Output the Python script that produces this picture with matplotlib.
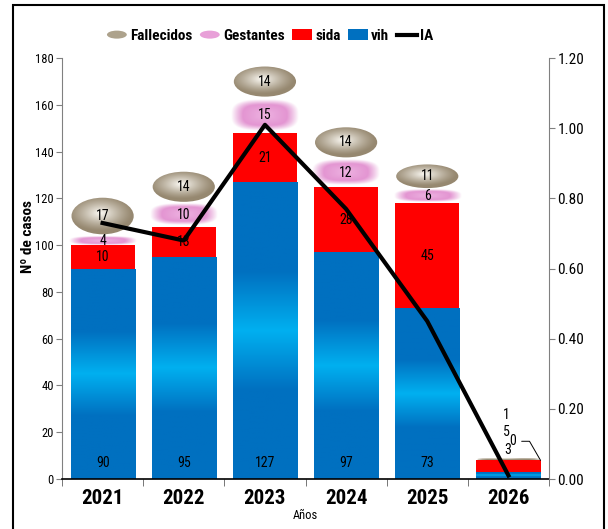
import matplotlib
matplotlib.use("Agg")
import matplotlib.pyplot as plt
import numpy as np
from matplotlib.legend_handler import HandlerPatch
from matplotlib.lines import Line2D
from matplotlib.patches import Ellipse, Patch, Rectangle
from matplotlib.ticker import FormatStrFormatter

years = ["2021", "2022", "2023", "2024", "2025", "2026"]
vih = [90, 95, 127, 97, 73, 3]
sida = [10, 13, 21, 28, 45, 5]
gestantes = [4, 10, 15, 12, 6, 0]
fallecidos = [17, 14, 14, 14, 11, 1]
ia = [0.73, 0.68, 1.01, 0.77, 0.45, 0.01]

plt.rcParams["font.family"] = ["Roboto Condensed", "PT Sans Narrow", "Liberation Sans", "DejaVu Sans"]


class HandlerEllipse(HandlerPatch):
    def create_artists(self, legend, orig_handle, xdescent, ydescent,
                       width, height, fontsize, trans):
        center = (0.5 * width - 0.5 * xdescent, 0.5 * height - 0.5 * ydescent)
        p = Ellipse(xy=center, width=width, height=height * 0.75)
        self.update_prop(p, orig_handle, legend)
        p.set_transform(trans)
        return [p]


def blue_gradient():
    t = np.linspace(0, 1, 200)
    wgt = np.clip(1 - np.abs(t - 0.5) / 0.2, 0, 1)
    dark = np.array([0, 112, 192]) / 255
    light = np.array([0, 176, 240]) / 255
    return (dark + (light - dark) * wgt[:, None])[:, None, :]


def pink_blob():
    u, v = np.meshgrid(np.linspace(-1, 1, 160), np.linspace(-1, 1, 60))
    r = (np.abs(u) ** 3 + np.abs(v) ** 3) ** (1 / 3)
    alpha = np.clip((1 - r) / 0.35, 0, 1) * 0.9
    edge = np.array([218, 120, 196]) / 255
    mid = np.array([236, 170, 222]) / 255
    f = np.clip(1 - r, 0, 1)[..., None]
    rgb = edge + (mid - edge) * f
    return np.dstack([rgb, alpha])


def metal_ellipse():
    u, v = np.meshgrid(np.linspace(-1, 1, 160), np.linspace(-1, 1, 80))
    d = np.sqrt(((u + 0.1) / 1.0) ** 2 + ((v - 0.15) / 0.9) ** 2)
    f = np.clip(1 - d, 0, 1)[..., None] ** 1.2
    edge = np.array([150, 136, 112]) / 255
    hl = np.array([252, 250, 244]) / 255
    return edge + (hl - edge) * f


fig = plt.figure(figsize=(6.08, 5.29), dpi=100)
ax = fig.add_axes([0.102, 0.0945, 0.801, 0.7955])

x = np.arange(len(years))
w = 0.79
b_vih = ax.bar(x, vih, w, color="#0070C0", zorder=1)
bot2 = np.array(vih)
b_sida = ax.bar(x, sida, w, bottom=bot2, color="#FF0000", zorder=1)
bot3 = bot2 + np.array(sida)
b_gest = ax.bar(x, gestantes, w, bottom=bot3, color="none")
bot4 = bot3 + np.array(gestantes)
b_fall = ax.bar(x, fallecidos, w, bottom=bot4, color="none")

grad = blue_gradient()
for r in b_vih:
    im = ax.imshow(grad, extent=(r.get_x(), r.get_x() + r.get_width(),
                                 r.get_y(), r.get_y() + r.get_height()),
                   aspect="auto", origin="lower", zorder=1.5, interpolation="bilinear")
    im.set_clip_path(r)

blob = pink_blob()
for r in b_gest:
    if r.get_height() <= 0:
        continue
    h = r.get_height()
    ax.imshow(blob, extent=(r.get_x() - 0.02, r.get_x() + r.get_width() + 0.02,
                            r.get_y() + 0.05 * h, r.get_y() + 0.95 * h),
              aspect="auto", origin="lower", zorder=2, interpolation="bilinear")

metal = metal_ellipse()
for r in b_fall:
    h = r.get_height()
    cx = r.get_x() + r.get_width() / 2
    cy = r.get_y() + h / 2
    e = Ellipse((cx, cy), r.get_width() * 0.97, max(h * 0.92, 1.0),
                transform=ax.transData, facecolor="none", edgecolor="none")
    ax.add_patch(e)
    im = ax.imshow(metal, extent=(cx - r.get_width() / 2, cx + r.get_width() / 2,
                                  cy - h / 2, cy + h / 2),
                   aspect="auto", origin="lower", zorder=2, interpolation="bilinear")
    im.set_clip_path(e)

lab = dict(ha="center", va="center", fontsize=10, zorder=5)
for i in range(5):
    ax.text(x[i], 7, str(vih[i]), **lab)
    ax.text(x[i], bot2[i] + sida[i] / 2, str(sida[i]), **lab)
    ax.text(x[i], bot3[i] + gestantes[i] / 2, str(gestantes[i]), **lab)
    ax.text(x[i], bot4[i] + fallecidos[i] / 2, str(fallecidos[i]), **lab)

# last year: values too small, labels pushed above the bar
k = 5
ax.annotate(str(fallecidos[k]), (x[k], bot4[k] + fallecidos[k] / 2),
            xytext=(-1.4, 31.7), textcoords="offset points", **lab)
ax.annotate(str(sida[k]), (x[k], bot2[k] + sida[k] / 2),
            xytext=(-1.4, 24.5), textcoords="offset points", **lab)
ax.annotate(str(vih[k]), (x[k], vih[k] / 2),
            xytext=(-0.7, 18.4), textcoords="offset points", **lab)
ax.annotate(str(gestantes[k]), (x[k] + w / 2, bot3[k]),
            xytext=(-20, 13.7), textcoords="offset points",
            ha="center", va="center", fontsize=10, zorder=5,
            arrowprops=dict(arrowstyle="-", color="black", lw=0.7, relpos=(1, 0.5),
                            shrinkA=2, shrinkB=0,
                            connectionstyle="angle,angleA=0,angleB=120,rad=0"))

ax.set_xlim(-0.5, 5.5)
ax.set_ylim(0, 180)
ax.set_yticks(range(0, 181, 20))
ax.set_xticks(x)
ax.set_xticklabels(years, fontsize=15, fontweight="bold")
ax.set_xticks(np.arange(-0.5, 5.6, 1), minor=True)
ax.tick_params(axis="x", which="major", length=0, pad=7)
ax.tick_params(axis="x", which="minor", length=5, direction="out", color="#606060")
ax.tick_params(axis="y", length=4, direction="out", color="#808080", labelsize=9, pad=2)
ax.set_xlabel("Años", fontsize=9, labelpad=1)
ax.set_ylabel("Nº de casos", fontsize=11, fontweight="bold")
ax.yaxis.set_label_coords(-0.056, 0.577)
ax.spines["top"].set_visible(False)
ax.spines["right"].set_visible(False)
ax.spines["left"].set_color("#808080")
ax.spines["bottom"].set_color("black")
ax.spines["bottom"].set_linewidth(1.2)

ax2 = ax.twinx()
ax2.plot(x, ia, color="black", lw=3)
ax2.set_ylim(0, 1.2)
ax2.set_yticks(np.arange(0, 1.21, 0.2))
ax2.yaxis.set_major_formatter(FormatStrFormatter("%.2f"))
ax2.tick_params(axis="y", length=4, direction="out", color="#808080", labelsize=11, pad=2)
for s in ["top", "left", "bottom"]:
    ax2.spines[s].set_visible(False)
ax2.spines["right"].set_color("#808080")

h_fall = Patch(facecolor="#ADA28C")
h_gest = Patch(facecolor="#E8A0D8")
handles = [h_fall, h_gest, Patch(facecolor="#FF0000"), Patch(facecolor="#0070C0"),
           Line2D([], [], color="black", lw=3)]
fig.legend(handles, ["Fallecidos", "Gestantes", "sida", "vih", "IA"],
           handler_map={h_fall: HandlerEllipse(), h_gest: HandlerEllipse()},
           loc="center", bbox_to_anchor=(0.444, 0.932), ncol=5, frameon=False,
           prop={"weight": "bold", "size": 11}, handlelength=1.3, handleheight=0.7,
           handletextpad=0.2, columnspacing=0.5)

fig.patches.append(Rectangle((0.0214, -0.02), 0.972, 1.0105, transform=fig.transFigure,
                             fill=False, edgecolor="black", lw=1.5))

fig.savefig("out.png", dpi=100)
